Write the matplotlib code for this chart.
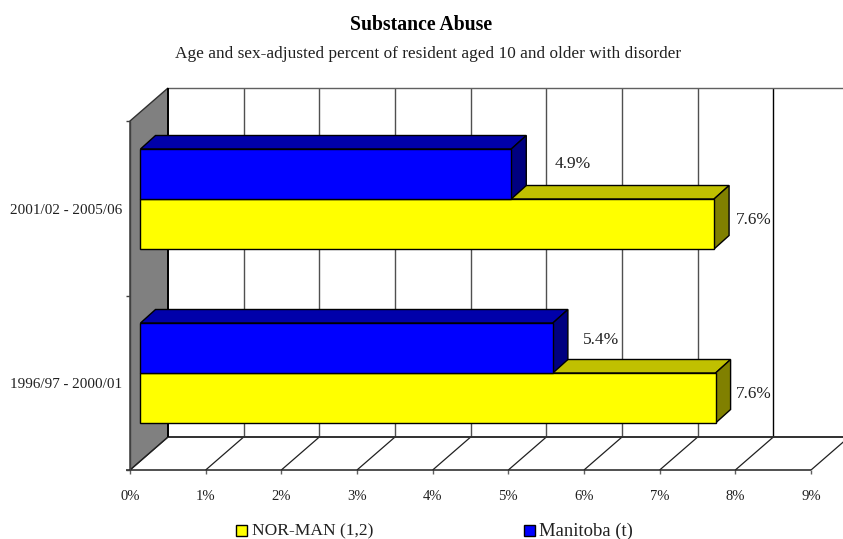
import matplotlib
matplotlib.use("Agg")
import matplotlib.pyplot as plt
from matplotlib.patches import Polygon

periods = ["1996/97 - 2000/01", "2001/02 - 2005/06"]
nor_man = [7.6, 7.58]
manitoba = [5.45, 4.9]
nor_man_labels = ["7.6%", "7.6%"]
manitoba_labels = ["5.4%", "4.9%"]
x_ticks = [0, 1, 2, 3, 4, 5, 6, 7, 8, 9]

plt.rcParams["font.family"] = ["Liberation Serif", "DejaVu Serif"]

W, H = 843, 539
X0, XS = 130, 75.67    # pixel of 0%, pixels per 1%
Y0, YS = 373, 174      # pixel of first category, pixels per category
PX, PY = 1 / XS, 1 / YS

fig = plt.figure(figsize=(W / 100, H / 100), dpi=100)
ax = fig.add_axes([0, 0, 1, 1])
ax.set_xlim(-X0 * PX, (W - X0) * PX)
ax.set_ylim((Y0 - H) * PY, Y0 * PY)
ax.axis("off")

# the box the bars stand in
floor = (Y0 - 470) * PY
ceil = (Y0 - 121) * PY
wall_dx, wall_dy = 38 * PX, 33 * PY
bar_gap = 10.5 * PX
bar_dx, bar_dy = 15 * PX, 13.5 * PY
bar_h = 50 * PY
xmax = x_ticks[-1]


def face(pts, color, z, edge="black", lw=1.0):
    ax.add_patch(Polygon(pts, closed=True, facecolor=color, edgecolor=edge,
                         linewidth=lw, zorder=z, joinstyle="miter"))


def line(xs, ys, color="black", lw=1.0, z=2):
    ax.plot(xs, ys, color=color, linewidth=lw, zorder=z, solid_capstyle="butt")


def bar(left, right, low, top_c, front_c, side_c, z):
    high = low + bar_h
    face([(left, high), (left + bar_dx, high + bar_dy), (right + bar_dx, high + bar_dy), (right, high)], top_c, z)
    face([(right, low), (right + bar_dx, low + bar_dy), (right + bar_dx, high + bar_dy), (right, high)], side_c, z)
    face([(left, low), (right, low), (right, high), (left, high)], front_c, z + 0.5)


# left wall
face([(0, floor), (wall_dx, floor + wall_dy), (wall_dx, ceil + wall_dy), (0, ceil)],
     "#808080", 1, edge="#303030", lw=1.0)

# back wall grid and floor lines
for t in x_ticks:
    if t > 0:
        c = "black" if t == 8 else "#505050"
        line([t + wall_dx, t + wall_dx], [floor + wall_dy, ceil + wall_dy], color=c)
    line([t, t + wall_dx], [floor, floor + wall_dy], color="#202020", lw=0.9)
    line([t, t], [floor, floor - 4 * PY], color="#606060")
    ax.text(t, (Y0 - 496) * PY, f"{t}%", ha="center", va="center", fontsize=10.5, color="#202020")
line([wall_dx, W], [ceil + wall_dy, ceil + wall_dy], color="#606060")
line([wall_dx, W], [floor + wall_dy, floor + wall_dy], color="#303030", lw=1.4)
line([wall_dx, wall_dx], [floor + wall_dy, ceil + wall_dy], color="black", lw=1.4)
line([-4 * PX, xmax], [floor, floor], color="#202020", lw=1.1)

# category ticks and labels
line([0, 0], [floor, ceil], color="#404040")
for yt in [floor, (floor + ceil) / 2, ceil]:
    line([-4 * PX, 0], [yt, yt], color="#404040")
for i, name in enumerate(periods):
    ax.text(-8 * PX, i - 11 * PY, name, ha="right", va="center", fontsize=10.9, color="#202020")

# bars, drawn back to front
for i in range(len(periods)):
    z = 3 + i
    bar(bar_gap, bar_gap + nor_man[i], i - bar_h, "#C0C000", "#FFFF00", "#808000", z)
    bar(bar_gap, bar_gap + manitoba[i], i, "#0000AA", "#0000FF", "#000080", z + 1)

# value labels
lab_x = [(583 - X0) * PX, (555 - X0) * PX]
lab_y = [(Y0 - 340) * PY, (Y0 - 164) * PY]
for i in range(len(periods)):
    ax.text(lab_x[i], lab_y[i], manitoba_labels[i], ha="left", va="center",
            fontsize=12.5, color="#202020", zorder=9)
    ax.text((736 - X0) * PX, i - 20.5 * PY, nor_man_labels[i], ha="left", va="center",
            fontsize=12.3, color="#202020", zorder=9)

# titles
ax.text((421 - X0) * PX, (Y0 - 25) * PY, "Substance Abuse", ha="center", va="center",
        fontsize=14.2, fontweight="bold", color="black")
ax.text((428 - X0) * PX, (Y0 - 54) * PY,
        "Age and sex-adjusted percent of resident aged 10 and older with disorder",
        ha="center", va="center", fontsize=12.4, color="#202020")

# legend
leg_y = (Y0 - 530) * PY
for px, c, name, tx, fs in [(236, "#FFFF00", "NOR-MAN (1,2)", 252, 12.6), (524, "#0000FF", "Manitoba (t)", 539, 13.4)]:
    lx, s = (px - X0) * PX, 5.5 * PY
    face([(lx, leg_y - s), (lx + 11 * PX, leg_y - s), (lx + 11 * PX, leg_y + s), (lx, leg_y + s)], c, 5)
    ax.text((tx - X0) * PX, leg_y - 1 * PY, name, ha="left", va="center", fontsize=fs, color="#202020")

fig.savefig("out.png", dpi=100)
